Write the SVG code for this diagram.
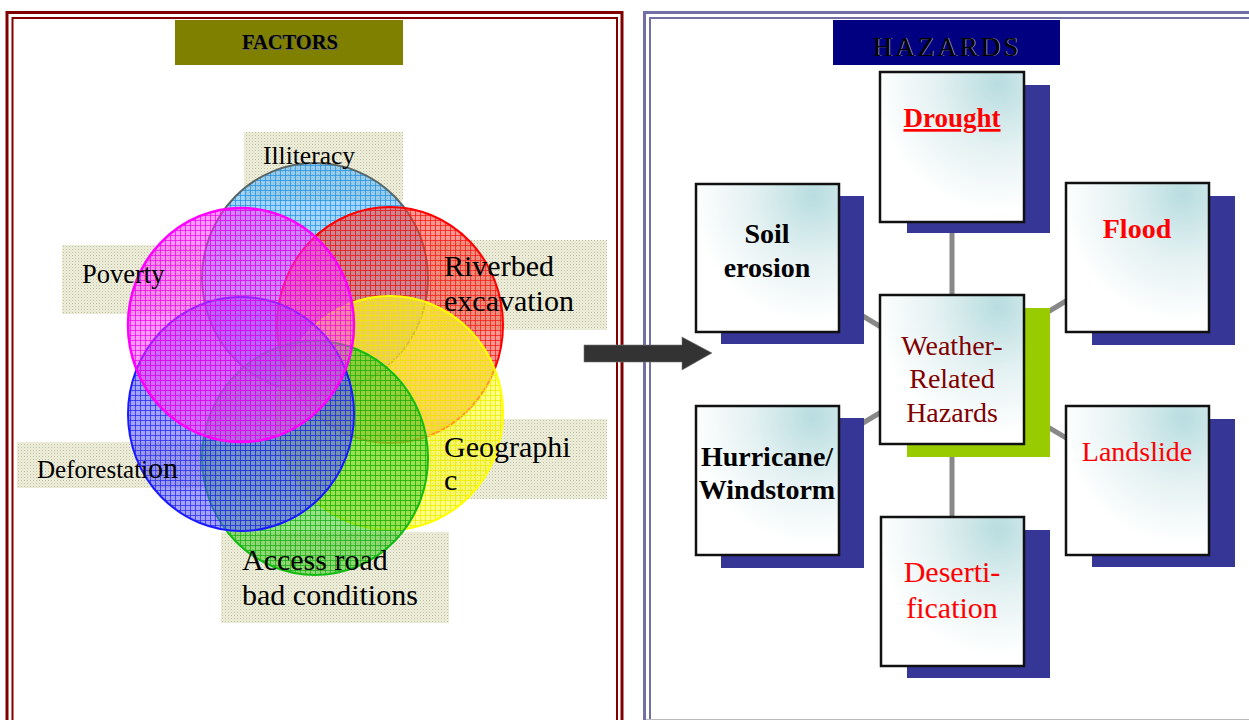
<svg xmlns="http://www.w3.org/2000/svg" width="1249" height="720" viewBox="0 0 1249 720">
<style>
.lbl{font-family:"Liberation Serif","Times New Roman",serif;fill:#000}
.hz{font-family:"Liberation Serif","Times New Roman",serif;text-anchor:middle}
.b{font-weight:bold}
.box{fill:url(#boxg);stroke:#111;stroke-width:2.5}
.sh{fill:#363697}
.conn{stroke:#888;stroke-width:5;fill:none}
.beige{fill:url(#beigeP)}
</style>
<defs>
<radialGradient id="boxg" cx="0.82" cy="0.08" r="0.85">
<stop offset="0" stop-color="#B8DDE0"/>
<stop offset="0.5" stop-color="#E4F1F2"/>
<stop offset="1" stop-color="#FFFFFF"/>
</radialGradient>
<pattern id="beigeP" patternUnits="userSpaceOnUse" width="3" height="3">
<rect width="3" height="3" fill="#EEEEDC"/>
<rect width="1" height="1" fill="#BFBF9C"/>
<rect x="1.5" y="1.5" width="1" height="1" fill="#D6D6BA"/>
</pattern>
<pattern id="pC" patternUnits="userSpaceOnUse" width="5" height="5">
<rect width="5" height="5" fill="#55B4FF" fill-opacity="0.55"/>
<path d="M0 0.5H5M0.5 0V5" stroke="#1E8FE0" stroke-opacity="0.7" stroke-width="1"/>
</pattern>
<pattern id="pR" patternUnits="userSpaceOnUse" width="5" height="5">
<rect width="5" height="5" fill="#EE4433" fill-opacity="0.55"/>
<path d="M0 0.5H5M0.5 0V5" stroke="#FF1010" stroke-opacity="0.7" stroke-width="1"/>
</pattern>
<pattern id="pY" patternUnits="userSpaceOnUse" width="5" height="5">
<rect width="5" height="5" fill="#FFFF33" fill-opacity="0.6"/>
<path d="M0 0.5H5M0.5 0V5" stroke="#EEEE00" stroke-opacity="0.8" stroke-width="1"/>
</pattern>
<pattern id="pG" patternUnits="userSpaceOnUse" width="5" height="5">
<rect width="5" height="5" fill="#44CC22" fill-opacity="0.55"/>
<path d="M0 0.5H5M0.5 0V5" stroke="#11AA11" stroke-opacity="0.7" stroke-width="1"/>
</pattern>
<pattern id="pB" patternUnits="userSpaceOnUse" width="5" height="5">
<rect width="5" height="5" fill="#5555FF" fill-opacity="0.55"/>
<path d="M0 0.5H5M0.5 0V5" stroke="#2222EE" stroke-opacity="0.7" stroke-width="1"/>
</pattern>
<pattern id="pM" patternUnits="userSpaceOnUse" width="5" height="5">
<rect width="5" height="5" fill="#FF33FF" fill-opacity="0.5"/>
<path d="M0 0.5H5M0.5 0V5" stroke="#EE00EE" stroke-opacity="0.7" stroke-width="1"/>
</pattern>
</defs>
<rect width="1249" height="720" fill="#FFFFFF"/>

<g id="frames">
<rect x="7" y="12.5" width="615" height="740" fill="none" stroke="#800000" stroke-width="3"/>
<rect x="12.5" y="18" width="604.5" height="740" fill="none" stroke="#800000" stroke-width="2"/>
<rect x="644.5" y="12.5" width="640" height="740" fill="none" stroke="#7070A6" stroke-width="3"/>
<rect x="650" y="18" width="640" height="740" fill="none" stroke="#7070A6" stroke-width="2"/>
<line x1="646" y1="719.5" x2="1249" y2="719.5" stroke="#BBBBBB" stroke-width="1"/>
</g>

<g id="factors-title">
<rect x="175" y="20" width="228" height="45" fill="#808000"/>
<text x="290.8" y="49.5" class="lbl b" font-size="20.5" text-anchor="middle" style="fill:#666">FACTORS</text>
<text x="290" y="49" class="lbl b" font-size="20.5" text-anchor="middle">FACTORS</text>
</g>

<g id="hazards-title">
<rect x="833" y="20" width="227" height="45" fill="#000080"/>
<text x="947.8" y="56.4" class="lbl" font-size="27" text-anchor="middle" letter-spacing="3" style="fill:#A8A8A8">HAZARDS</text>
<text x="947" y="56" class="lbl" font-size="27" text-anchor="middle" letter-spacing="3">HAZARDS</text>
</g>

<g id="label-boxes">
<rect class="beige" x="244" y="132" width="159" height="69"/>
<rect class="beige" x="62" y="245" width="138" height="69"/>
<rect class="beige" x="430" y="240" width="177" height="90"/>
<rect class="beige" x="430" y="419" width="177" height="80"/>
<rect class="beige" x="17" y="442" width="200" height="46"/>
<rect class="beige" x="221" y="532" width="228" height="91"/>
</g>

<g id="circles">
<ellipse id="c-illiteracy" cx="315" cy="278" rx="113" ry="115" fill="url(#pC)" stroke="#5A6666" stroke-width="2"/>
<ellipse id="c-riverbed" cx="390" cy="325" rx="113" ry="118" fill="url(#pR)" stroke="#FF0000" stroke-width="2"/>
<ellipse id="c-geographic" cx="390" cy="413" rx="113" ry="117" fill="url(#pY)" stroke="#FFFF00" stroke-width="2"/>
<ellipse id="c-access" cx="315" cy="458" rx="113" ry="117" fill="url(#pG)" stroke="#11BB11" stroke-width="2"/>
<ellipse id="c-deforestation" cx="241" cy="414" rx="113" ry="117" fill="url(#pB)" stroke="#1A1AFF" stroke-width="2"/>
<ellipse id="c-poverty" cx="241" cy="325" rx="113" ry="117" fill="url(#pM)" stroke="#FF00FF" stroke-width="2.5"/>
</g>

<g id="labels">
<text class="lbl" x="263" y="164" font-size="25.5">Illiteracy</text>
<text class="lbl" x="82" y="283" font-size="26.5">Poverty</text>
<text class="lbl" x="444" y="276" font-size="30">Riverbed</text>
<text class="lbl" x="444" y="311" font-size="30">excavation</text>
<text class="lbl" x="444" y="457" font-size="30">Geographi</text>
<text class="lbl" x="444" y="490" font-size="30">c</text>
<text class="lbl" x="37" y="478" font-size="25">Deforestati<tspan font-size="30">on</tspan></text>
<text class="lbl" x="242" y="570" font-size="30">Access road</text>
<text class="lbl" x="242" y="605" font-size="30">bad conditions</text>
</g>

<g id="arrow">
<polygon points="584,345 682,345 682,337 712,353 682,370 682,362 584,362" fill="#333333" stroke="#777" stroke-width="0.6"/>
</g>

<g id="connectors">
<line class="conn" x1="952" y1="370" x2="952" y2="147"/>
<line class="conn" x1="952" y1="370" x2="952" y2="591"/>
<line class="conn" x1="952" y1="370" x2="767" y2="258"/>
<line class="conn" x1="952" y1="370" x2="1137" y2="258"/>
<line class="conn" x1="952" y1="370" x2="767" y2="480"/>
<line class="conn" x1="952" y1="370" x2="1137" y2="480"/>
</g>

<g id="n-drought">
<rect class="sh" x="907" y="85" width="143" height="148"/>
<rect class="box" x="880" y="72" width="144" height="150"/>
<text class="hz b" x="952" y="127" font-size="27" fill="#FF0000" text-decoration="underline">Drought</text>
</g>

<g id="n-soil">
<rect class="sh" x="721" y="196" width="143" height="148"/>
<rect class="box" x="696" y="184" width="143" height="148"/>
<text class="hz b" x="767" y="243" font-size="28" fill="#000">Soil</text>
<text class="hz b" x="767" y="277" font-size="28" fill="#000">erosion</text>
</g>

<g id="n-flood">
<rect class="sh" x="1092" y="196" width="143" height="149"/>
<rect class="box" x="1066" y="183" width="143" height="149"/>
<text class="hz b" x="1137" y="238" font-size="28" fill="#FF0000">Flood</text>
</g>

<g id="n-center">
<rect x="907" y="308" width="143" height="149" fill="#99CC00"/>
<rect class="box" x="880" y="295" width="144" height="149"/>
<text class="hz" x="952" y="355" font-size="28" fill="#800000">Weather-</text>
<text class="hz" x="952" y="388" font-size="28" fill="#800000">Related</text>
<text class="hz" x="952" y="422" font-size="28" fill="#800000">Hazards</text>
</g>

<g id="n-hurricane">
<rect class="sh" x="721" y="418" width="143" height="150"/>
<rect class="box" x="696" y="406" width="143" height="149"/>
<text class="hz b" x="767" y="466" font-size="28" fill="#000">Hurricane/</text>
<text class="hz b" x="767" y="499" font-size="28" fill="#000">Windstorm</text>
</g>

<g id="n-landslide">
<rect class="sh" x="1092" y="419" width="143" height="148"/>
<rect class="box" x="1066" y="406" width="143" height="149"/>
<text class="hz" x="1137" y="461" font-size="28" fill="#FF0000">Landslide</text>
</g>

<g id="n-desert">
<rect class="sh" x="907" y="530" width="143" height="148"/>
<rect class="box" x="881" y="517" width="143" height="149"/>
<text class="hz" x="952" y="582" font-size="30" fill="#FF0000">Deserti-</text>
<text class="hz" x="952" y="618" font-size="30" fill="#FF0000">fication</text>
</g>
</svg>
